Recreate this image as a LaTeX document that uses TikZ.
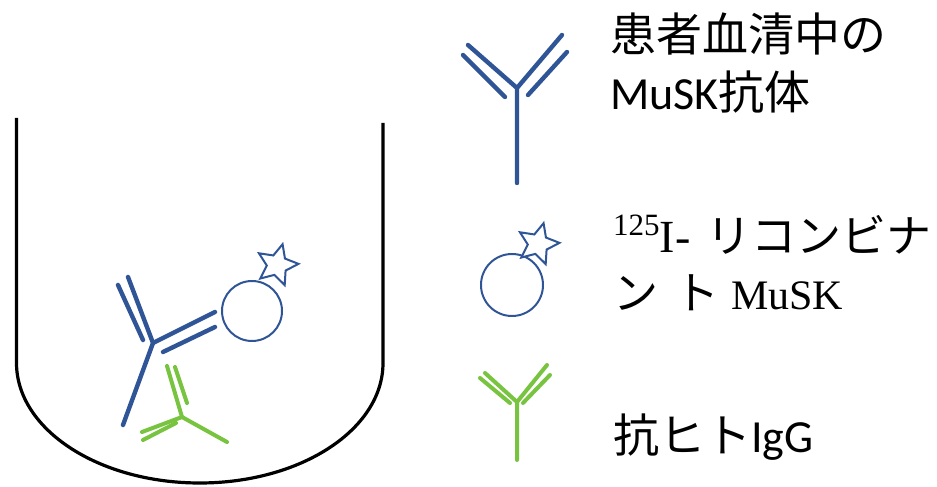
\documentclass[tikz,border=0pt]{standalone}
\usepackage{fontspec}
\usetikzlibrary{shapes.geometric}
\newfontfamily\jpfont{Noto Sans CJK JP}
\newfontfamily\latfont{Carlito}
\newfontfamily\serfont{Liberation Serif}
\definecolor{abblue}{HTML}{2F5597}
\definecolor{abgreen}{HTML}{78C441}
\newcommand{\isotope}[1]{\raisebox{17pt}{\fontsize{31}{31}\selectfont #1}}
\begin{document}
\begin{tikzpicture}[x=1pt,y=1pt,
  cup/.style={line width=3.2pt,black},
  bluechain/.style={line width=4.4pt,abblue,line cap=round},
  greenchain/.style={line width=4pt,abgreen,line cap=round},
  antigen/.style={circle,draw=abblue,line width=2pt,inner sep=0pt},
  label/.style={star,star points=5,star point ratio=2.1,draw=abblue,fill=white,line width=2pt,inner sep=0pt,minimum size=43pt,rotate=-15},
  caption/.style={anchor=base west,inner sep=0pt,align=left,font=\fontsize{46}{58}\selectfont}
]
\useasboundingbox (0,0) rectangle (937,487);

% well
\draw[cup] (16.5,369) -- (16.5,124) arc[start angle=180,end angle=360,x radius=183.25,y radius=120] -- (383,364);

% patient antibody bound in the well
\coordinate (bj) at (153,144);
\coordinate (bs) at (123,62);
\coordinate (bl) at (128,210);
\coordinate (blo1) at (118,202);
\coordinate (blo2) at (143,147);
\coordinate (br) at (215,175);
\coordinate (bro1) at (163,135);
\coordinate (bro2) at (215,160);
\draw[bluechain] (bs) -- (bj) -- (bl);
\draw[bluechain] (bj) -- (br);
\draw[bluechain] (blo1) -- (blo2);
\draw[bluechain] (bro1) -- (bro2);

% labelled antigen in the well
\node[antigen,minimum size=60pt] (ag) at (252,176) {};
\node[label] (agstar) at (277,222) {};

% anti-human IgG in the well
\coordinate (gj) at (182,70);
\coordinate (gs) at (227,45);
\coordinate (gu) at (167,121);
\coordinate (guo1) at (175,120);
\coordinate (guo2) at (187,84);
\coordinate (gl) at (142,55);
\coordinate (glo1) at (143,47);
\coordinate (glo2) at (176,64);
\draw[greenchain] (gs) -- (gj) -- (gu);
\draw[greenchain] (gj) -- (gl);
\draw[greenchain] (guo1) -- (guo2);
\draw[greenchain] (glo1) -- (glo2);

% legend: patient antibody
\coordinate (lbj) at (517,399);
\coordinate (lbs) at (517,304);
\coordinate (lbl) at (468,442);
\coordinate (lblo1) at (463,432);
\coordinate (lblo2) at (505,390);
\coordinate (lbr) at (562,452);
\coordinate (lbro1) at (528,392);
\coordinate (lbro2) at (567,435);
\draw[bluechain] (lbs) -- (lbj) -- (lbl);
\draw[bluechain] (lbj) -- (lbr);
\draw[bluechain] (lblo1) -- (lblo2);
\draw[bluechain] (lbro1) -- (lbro2);

% legend: labelled antigen
\node[antigen,minimum size=62pt] (lag) at (512,202) {};
\node[label] (lagstar) at (538,243) {};

% legend: anti-human IgG
\coordinate (lgj) at (517,85);
\coordinate (lgs) at (517,27);
\coordinate (lgl) at (485,114);
\coordinate (lglo1) at (480,109);
\coordinate (lglo2) at (510,84);
\coordinate (lgr) at (547,122);
\coordinate (lgro1) at (523,84);
\coordinate (lgro2) at (550,112);
\draw[greenchain] (lgs) -- (lgj) -- (lgl);
\draw[greenchain] (lgj) -- (lgr);
\draw[greenchain] (lglo1) -- (lglo2);
\draw[greenchain] (lgro1) -- (lgro2);

% captions (base anchor sits on the last line)
\node[caption] (cap1) at (610,377) {{\jpfont 患者血清中の}\\{\latfont MuSK}{\jpfont 抗体}};
\node[caption,font=\fontsize{45}{57}\selectfont] (cap2) at (613,177)
  {{\serfont\isotope{125}{\fontsize{46}{57}\selectfont I-}}\hspace{16pt}{\jpfont リコンビナ}\\
   {\jpfont ン}\hspace{16pt}{\jpfont ト}\hspace{12pt}{\serfont\fontsize{42}{57}\selectfont MuSK}};
\node[caption] (cap3) at (613,34) {{\jpfont 抗ヒト}{\latfont IgG}};
\end{tikzpicture}
\end{document}
